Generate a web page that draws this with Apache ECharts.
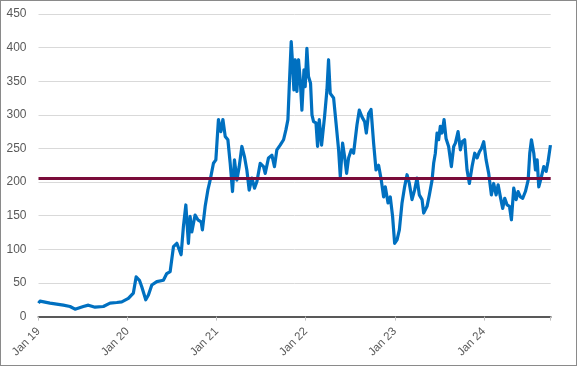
<!DOCTYPE html>
<html><head><meta charset="utf-8">
<script src="https://cdn.jsdelivr.net/npm/echarts@6.0.0/dist/echarts.min.js"></script>
<style>
html,body{margin:0;padding:0;background:#fff}
#c{width:577px;height:366px;box-sizing:border-box;border:1px solid #8a8a8a;background:#fff}
</style>
</head><body><div id="c"></div><script>
// time in decimal years
const years = [
2019.000,2019.017,2019.129,2019.279,2019.354,2019.410,2019.503,2019.560,2019.635,2019.728,2019.803,2019.879,2019.935,
2020.009,2020.065,2020.096,2020.133,2020.160,2020.204,2020.234,2020.272,2020.328,2020.402,2020.440,2020.478,2020.515,
2020.553,2020.601,2020.627,2020.654,2020.683,2020.702,2020.721,2020.758,2020.789,2020.826,2020.840,2020.871,2020.901,
2020.927,2020.964,2020.991,
2021.020,2021.047,2021.070,2021.096,2021.126,2021.152,2021.178,2021.200,2021.227,2021.253,2021.283,2021.312,2021.339,
2021.365,2021.396,2021.425,2021.452,2021.489,2021.526,2021.545,2021.582,2021.620,2021.649,2021.676,2021.713,2021.751,
2021.778,2021.800,2021.815,2021.837,2021.852,2021.867,2021.882,2021.901,2021.919,2021.938,2021.957,2021.980,2021.994,
2022.013,2022.031,2022.054,2022.070,2022.088,2022.115,2022.133,2022.152,2022.178,2022.211,2022.238,2022.256,2022.275,
2022.313,2022.340,2022.369,2022.388,2022.414,2022.436,2022.459,2022.481,2022.511,2022.537,2022.575,2022.601,2022.631,
2022.661,2022.680,2022.706,2022.733,2022.762,2022.789,2022.818,2022.848,2022.874,2022.893,2022.924,2022.949,2022.975,
2022.998,
2023.025,2023.051,2023.081,2023.110,2023.137,2023.163,2023.193,2023.222,2023.249,2023.275,2023.306,2023.324,2023.362,
2023.388,2023.418,2023.436,2023.455,2023.474,2023.492,2023.511,2023.530,2023.553,2023.575,2023.604,2023.635,2023.661,
2023.680,2023.710,2023.736,2023.755,2023.784,2023.811,2023.837,2023.867,2023.897,2023.924,2023.949,2023.972,2023.998,
2024.025,2024.054,2024.084,2024.110,2024.137,2024.160,2024.185,2024.211,2024.234,2024.261,2024.287,2024.309,2024.335,
2024.362,2024.384,2024.410,2024.436,2024.466,2024.497,2024.515,2024.534,2024.560,2024.579,2024.598,2024.616,2024.646,
2024.672,2024.699,2024.721,2024.747
];
const values = [
20,23,20,17,15,11,15,17,14,15,20,21,22,
27,35,59,54,44,25,32,47,52,54,64,67,104,
109,92,134,166,109,149,126,151,144,141,129,164,188,
203,228,233,
293,275,293,268,263,228,186,233,203,223,253,238,218,
188,206,191,201,228,223,213,236,240,223,248,255,263,
278,293,342,409,377,337,382,335,382,352,307,367,342,
399,357,347,300,290,288,253,293,255,297,337,382,332,
325,288,248,208,258,238,213,236,248,243,285,307,297,
290,273,302,308,258,218,225,203,178,193,169,178,149,
109,
114,129,169,193,211,198,174,188,206,181,174,154,164,
181,203,228,243,273,263,283,273,293,265,253,223,253,
258,275,248,260,263,218,198,223,243,236,245,250,260,
233,213,181,198,181,196,178,161,176,166,164,144,191,
174,186,178,176,186,203,243,263,243,218,233,193,208,
223,216,231,255
];
const avgLevel = 205;
const xStart = 2019, xEnd = 2024.75;
const yMin = 0, yMax = 450, yStep = 50;

const chart = echarts.init(document.getElementById('c'), null, {renderer:'canvas'});
const font = "'Liberation Sans', Arial, sans-serif";
chart.setOption({
  animation:false,
  grid:{left:37.5, right:25.3, top:13, bottom:48.4, containLabel:false},
  xAxis:{
    type:'value', min:xStart, max:xEnd, interval:1,
    splitLine:{show:false},
    axisLine:{show:true, onZero:false, lineStyle:{color:'#595959', width:2}},
    axisTick:{show:true, length:4, lineStyle:{color:'#bfbfbf', width:1}},
    axisLabel:{rotate:45, margin:13, color:'#595959', fontSize:11.5, fontFamily:font,
      formatter:v=> Math.abs(v-Math.round(v))<1e-6 ? 'Jan ' + String(Math.round(v)).slice(2) : ''}
  },
  yAxis:{
    type:'value', min:yMin, max:yMax, interval:yStep,
    axisLine:{show:false}, axisTick:{show:false},
    splitLine:{show:true, lineStyle:{color:'#d9d9d9', width:1}},
    axisLabel:{margin:12, color:'#595959', fontSize:12, fontFamily:font}
  },
  series:[{
    type:'line', showSymbol:false, symbol:'none',
    data: years.map((t,i)=>[t, values[i]]),
    lineStyle:{color:'#0070c0', width:3.2, join:'round'},
    z:3,
    markLine:{
      silent:true, symbol:'none', label:{show:false},
      lineStyle:{color:'#7a0c3a', width:3, type:'solid'},
      data:[{yAxis:avgLevel}],
      z:4
    }
  }]
});
</script></body></html>
